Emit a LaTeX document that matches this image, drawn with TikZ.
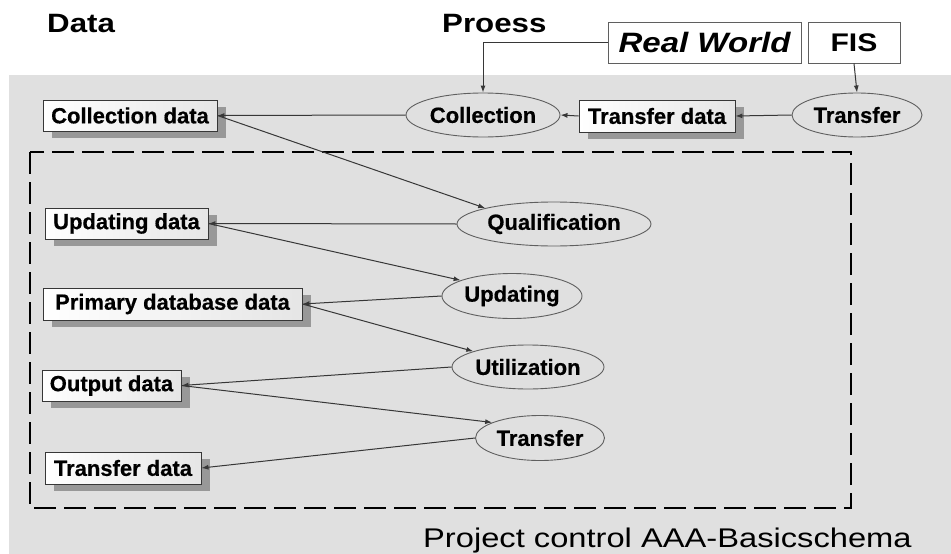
\documentclass[tikz,border=0pt]{standalone}
\usepackage{fontspec}
\setmainfont{Liberation Sans}
\newfontfamily\headfont[FakeStretch=1.18]{Liberation Sans}
\newfontfamily\footfont[FakeStretch=1.21]{Liberation Sans}
\newfontfamily\nodefont[BoldFeatures={FakeBold=0.5}]{Liberation Sans}
\usetikzlibrary{arrows.meta,shadows,shapes.geometric}
\definecolor{bggray}{RGB}{224,224,224}
\definecolor{linegray}{RGB}{55,55,55}
\definecolor{ellgray}{RGB}{95,95,95}
\definecolor{shadowgray}{RGB}{152,152,152}
\tikzset{
  databox/.style={draw=linegray, line width=0.9pt, inner sep=0pt,
    left color=white, right color=black!10,
    drop shadow={shadow xshift=9pt, shadow yshift=-7pt, fill=shadowgray, opacity=1},
    font=\nodefont\fontsize{22}{26}\selectfont\bfseries},
  procell/.style={ellipse, draw=ellgray, line width=0.9pt, inner sep=0pt,
    font=\nodefont\fontsize{22}{26}\selectfont\bfseries},
  topbox/.style={draw=ellgray, line width=0.9pt, fill=white, inner sep=0pt,
    minimum height=41pt},
  flow/.style={draw=linegray, line width=1pt, -{Latex[length=7pt,width=5pt]}},
  heading/.style={anchor=base west, inner sep=0pt,
    font=\headfont\fontsize{26.5}{30}\selectfont\bfseries}
}
\begin{document}
\begin{tikzpicture}[x=1pt,y=-1pt]
\useasboundingbox (0,0) rectangle (951,554);
\fill[white] (0,0) rectangle (951,554);
\fill[bggray] (9,75) rectangle (951,554);

% headings
\node[heading] (hdata) at (47,32) {Data};
\node[heading] (hproc) at (442,32) {Proess};

% top boxes
\node[topbox, minimum width=193pt, font=\headfont\fontsize{28}{32}\selectfont\bfseries\itshape] (rw) at (704.5,42.5) {Real World};
\node[topbox, minimum width=92pt, font=\headfont\fontsize{25.5}{30}\selectfont\bfseries] (fis) at (854,42.5) {FIS};

% dashed frame
\draw[black, line width=2.6pt, dash pattern=on 22pt off 8pt] (30,152) rectangle (851,508);

% process ellipses
\node[procell, minimum width=154pt, minimum height=44pt] (col) at (483,115) {Collection};
\node[procell, minimum width=130pt, minimum height=44pt] (tr1) at (857,115) {Transfer};
\node[procell, minimum width=194pt, minimum height=44pt] (qual) at (554,224) {Qualification};
\node[procell, minimum width=140pt, minimum height=45pt] (upd) at (512,296) {Updating};
\node[procell, minimum width=152pt, minimum height=44pt] (util) at (528,367) {Utilization};
\node[procell, minimum width=129pt, minimum height=45pt] (tr2) at (540,438) {Transfer};

% data boxes
\node[databox, minimum width=156pt, minimum height=32pt] (td1) at (657,116) {Transfer data};
\node[databox, minimum width=174pt, minimum height=31pt] (cd) at (130,115.5) {Collection data};
\node[databox, minimum width=163pt, minimum height=31pt] (ud) at (126.5,223.5) {Updating data};
\node[databox, minimum width=259pt, minimum height=32pt] (pdb) at (172.5,304) {Primary database data};
\node[databox, minimum width=139pt, minimum height=31pt] (od) at (111.5,385.5) {Output data};
\node[databox, minimum width=156pt, minimum height=32pt] (td2) at (123,468) {Transfer data};

% footer
\node[anchor=base west, inner sep=0pt, font=\footfont\fontsize{27}{31}\selectfont] (foot) at (423,547) {Project control AAA-Basicschema};

% connectors
\draw[flow] (rw.west) -| (col.north);
\draw[flow] (fis.south) -- (tr1.north);
\draw[flow] (tr1.west) -- (td1.east);
\draw[flow] (td1.west) -- (col.east);
\draw[flow] (col.west) -- (cd.east);
\draw[flow] (cd.east) -- (qual.167);
\draw[flow] (qual.west) -- (ud.east);
\draw[flow] (ud.east) -- (upd.163);
\draw[flow] (upd.west) -- (pdb.east);
\draw[flow] (pdb.east) -- (util.164);
\draw[flow] (util.west) -- (od.east);
\draw[flow] (od.east) -- (tr2.162);
\draw[flow] (tr2.west) -- (td2.east);
\end{tikzpicture}
\end{document}
